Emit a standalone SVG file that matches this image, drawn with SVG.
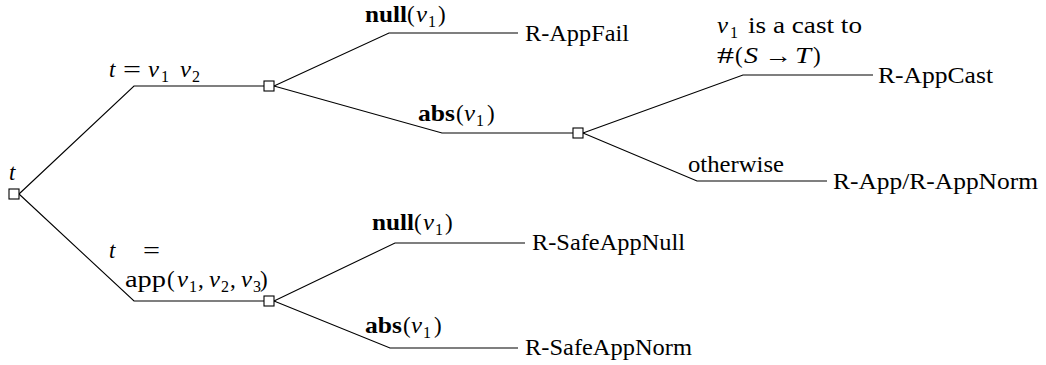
<svg xmlns="http://www.w3.org/2000/svg" width="1046" height="365" viewBox="0 0 1046 365">
<style>
.i{font-style:italic}
.b{font-weight:bold}
.s{font-size:16px}
.e{fill:none;stroke:#000;stroke-width:1.1}
.n{fill:#fff;stroke:#000;stroke-width:1.1}
</style>
<rect width="1046" height="365" fill="#fff"/>
<g id="d" font-family="Liberation Serif" font-size="23" fill="#000">
<g id="connectors">
<polyline class="e" points="19,194 134,86 264,86"/>
<polyline class="e" points="19,194 134,301 264,301"/>
<polyline class="e" points="274,86 389,33 518,33"/>
<polyline class="e" points="274,86 442,133 573,133"/>
<polyline class="e" points="583,133 743,75 873,75"/>
<polyline class="e" points="583,133 697,181 827,181"/>
<polyline class="e" points="274,301 395,243 525,243"/>
<polyline class="e" points="274,301 390,348 518,348"/>
</g>
<g id="root">
<rect class="n" x="9" y="189" width="10" height="10"/>
<text class="i" x="9" y="180">t</text>
</g>
<g id="edge-app-label">
<text class="i" x="109" y="77">t</text>
<text x="123" y="77" textLength="18" lengthAdjust="spacingAndGlyphs">=</text>
<text class="i" x="148" y="77" textLength="11" lengthAdjust="spacingAndGlyphs">v</text>
<text class="s" x="161" y="82">1</text>
<text class="i" x="180" y="77" textLength="11" lengthAdjust="spacingAndGlyphs">v</text>
<text class="s" x="192" y="82">2</text>
</g>
<g id="node-app">
<rect class="n" x="264" y="81" width="10" height="10"/>
</g>
<g id="edge-safeapp-label">
<text class="i" x="109" y="258">t</text>
<text x="143" y="258" textLength="17" lengthAdjust="spacingAndGlyphs">=</text>
<text x="125" y="287" textLength="41" lengthAdjust="spacingAndGlyphs">app</text>
<text x="167" y="287">(</text>
<text class="i" x="177" y="287" textLength="11" lengthAdjust="spacingAndGlyphs">v</text>
<text class="s" x="189" y="292">1</text>
<text x="198" y="287">,</text>
<text class="i" x="209" y="287" textLength="11" lengthAdjust="spacingAndGlyphs">v</text>
<text class="s" x="221" y="292">2</text>
<text x="230" y="287">,</text>
<text class="i" x="241" y="287" textLength="11" lengthAdjust="spacingAndGlyphs">v</text>
<text class="s" x="253" y="292">3</text>
<text x="260" y="287">)</text>
</g>
<g id="node-safeapp">
<rect class="n" x="264" y="296" width="10" height="10"/>
</g>
<g id="leaf-appfail">
<text class="b" x="365" y="22" textLength="42" lengthAdjust="spacingAndGlyphs">null</text>
<text x="407" y="22">(</text>
<text class="i" x="416" y="22" textLength="11" lengthAdjust="spacingAndGlyphs">v</text>
<text class="s" x="428" y="27">1</text>
<text x="438" y="22">)</text>
<text x="525" y="41" textLength="104" lengthAdjust="spacingAndGlyphs">R-AppFail</text>
</g>
<g id="edge-abs-label">
<text class="b" x="418" y="121" textLength="37" lengthAdjust="spacingAndGlyphs">abs</text>
<text x="456" y="121">(</text>
<text class="i" x="464" y="121" textLength="11" lengthAdjust="spacingAndGlyphs">v</text>
<text class="s" x="476" y="126">1</text>
<text x="487" y="121">)</text>
</g>
<g id="node-abs">
<rect class="n" x="573" y="128" width="10" height="10"/>
</g>
<g id="leaf-appcast">
<text class="i" x="717" y="33" textLength="11" lengthAdjust="spacingAndGlyphs">v</text>
<text class="s" x="730" y="38">1</text>
<text x="748" y="33" textLength="114" lengthAdjust="spacingAndGlyphs">is a cast to</text>
<text x="717" y="63" textLength="17" lengthAdjust="spacingAndGlyphs">#</text>
<text x="735" y="63">(</text>
<text class="i" x="744" y="63" textLength="14" lengthAdjust="spacingAndGlyphs">S</text>
<text x="764" y="63" textLength="28" lengthAdjust="spacingAndGlyphs">→</text>
<text class="i" x="795" y="63" textLength="16" lengthAdjust="spacingAndGlyphs">T</text>
<text x="813" y="63">)</text>
<text x="878" y="83" textLength="115" lengthAdjust="spacingAndGlyphs">R-AppCast</text>
</g>
<g id="leaf-appnorm">
<text x="688" y="172" textLength="96" lengthAdjust="spacingAndGlyphs">otherwise</text>
<text x="833" y="189" textLength="205" lengthAdjust="spacingAndGlyphs">R-App/R-AppNorm</text>
</g>
<g id="leaf-safeappnull">
<text class="b" x="372" y="230" textLength="42" lengthAdjust="spacingAndGlyphs">null</text>
<text x="414" y="230">(</text>
<text class="i" x="423" y="230" textLength="11" lengthAdjust="spacingAndGlyphs">v</text>
<text class="s" x="435" y="235">1</text>
<text x="445" y="230">)</text>
<text x="532" y="250" textLength="153" lengthAdjust="spacingAndGlyphs">R-SafeAppNull</text>
</g>
<g id="leaf-safeappnorm">
<text class="b" x="365" y="333" textLength="37" lengthAdjust="spacingAndGlyphs">abs</text>
<text x="403" y="333">(</text>
<text class="i" x="411" y="333" textLength="11" lengthAdjust="spacingAndGlyphs">v</text>
<text class="s" x="423" y="338">1</text>
<text x="434" y="333">)</text>
<text x="525" y="355" textLength="167" lengthAdjust="spacingAndGlyphs">R-SafeAppNorm</text>
</g>
</g>
</svg>
